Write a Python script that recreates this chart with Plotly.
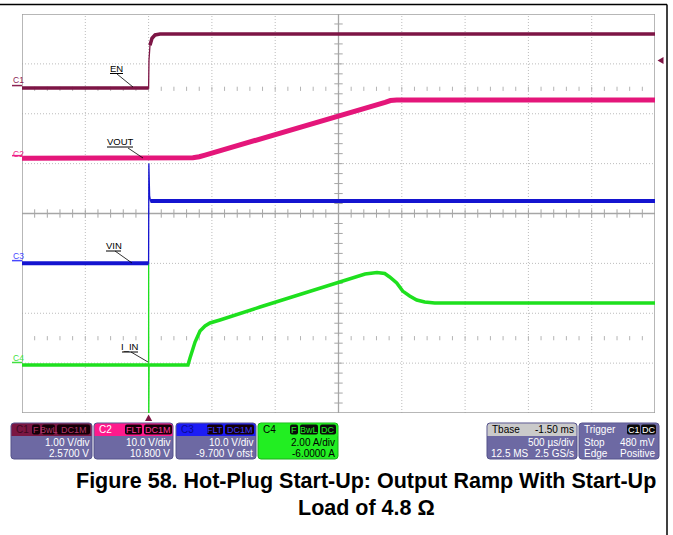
import plotly.graph_objects as go

# ---------------- data read from the scope capture ----------------
# time in microseconds relative to the trigger (500 us/div, 10 divisions)
time_range_us = [-1000, 4000]

# C1 : EN (V)
en_t = [-1000, 0, 3, 11, 27, 51, 90, 4000]
en_v = [0, 0, 1.12, 1.72, 2.0, 2.13, 2.17, 2.17]

# C2 : VOUT (V)
vout_t = [-1000, 300, 350, 400, 446, 1868, 1910, 1960, 4000]
vout_v = [0, 0, 0.15, 0.55, 1.2, 22.4, 23.1, 23.3, 23.3]

# C3 : VIN (V)
vin_t = [-1000, 0, 2, 8, 15, 4000]
vin_v = [0, 0, 40, 27, 24.9, 24.9]

# C4 : I_IN (A)
iin_t = [-1000, 0, 0.5, 1, 2, 3, 4, 311, 327, 367, 406, 446, 485, 564, 880,
         1504, 1591, 1710, 1804, 1865, 1904, 1960, 2007, 2062, 2118, 2181, 2260, 4000]
iin_a = [0, 0, 8.2, -5, 1.6, -1.0, 0, 0, 0.56, 1.84, 2.73, 3.13, 3.37, 3.61, 4.65,
         6.66, 6.94, 7.30, 7.42, 7.34, 7.06, 6.58, 5.93, 5.53, 5.21, 5.05, 4.97, 4.97]

trace_names = ["EN", "VOUT", "VIN", "I_IN"]
channel_tags = ["C1", "C2", "C3", "C4"]
volts_per_div = [1.0, 10.0, 10.0, 2.0]

# info-box texts
ch_settings = [["1.00 V/div", "2.5700 V"], ["10.0 V/div", "10.800 V"],
               ["10.0 V/div", "-9.700 V ofst"], ["2.00 A/div", "-6.0000 A"]]
ch_badges = [["F", "BwL", "DC1M"], ["FLT", "DC1M"], ["FLT", "DC1M"], ["F", "BwL", "DC"]]
tbase_text = ["Tbase", "-1.50 ms", "500 µs/div", "12.5 MS", "2.5 GS/s"]
trig_text = ["Trigger", "C1", "DC", "Stop", "480 mV", "Edge", "Positive"]
caption = ["Figure 58. Hot-Plug Start-Up: Output Ramp With Start-Up", "Load of 4.8 Ω"]

# ---------------- styling / layout ----------------
W, H = 673, 535
L, R, T, B = 22, 655, 14, 413            # plot area in pixels
NDIV_Y = 16
PX_PER_US = (R - L) / 5000
PX_PER_DIV = (B - T) / NDIV_Y

ground_div = [13.03, 10.22, 6.01, 1.925]
colors = ["#7d1545", "#e4167a", "#1414d0", "#1ee01e"]
thick = [3.5, 5, 4, 3.5]
label_colors = ["#8b2252", "#ee2288", "#4848ff", "#40e040"]
PURPLE = "#6d69a3"
FONT = "Liberation Sans, Arial, sans-serif"


def PX(x):
    return (x - L) / (R - L)


def PY(y):
    return (B - y) / (B - T)


def to_div(vals, ch):
    return [ground_div[ch] + v / volts_per_div[ch] for v in vals]


def thick_split(t, y):
    xs, ys = [t[0]], [y[0]]
    for i in range(1, len(t)):
        dx = abs(t[i] - t[i - 1]) * PX_PER_US
        dy = abs(y[i] - y[i - 1]) * PX_PER_DIV
        if dy > 3 and dy > 4 * dx:
            xs.append(None)
            ys.append(None)
        xs.append(t[i])
        ys.append(y[i])
    return xs, ys


fig = go.Figure()
shapes = []
annotations = []

# ---- graticule ----
GRID = "#bcbcbc"
AXC = "#a6a6a6"
for k in range(1, 10):
    t = time_range_us[0] + 500 * k
    if k == 5:
        continue
    shapes.append(dict(type="line", xref="x", yref="y", x0=t, x1=t, y0=0, y1=NDIV_Y,
                       line=dict(color=GRID, width=1, dash="1px,2px"), layer="below"))
for d in [2, 4, 6, 10, 12, 14]:
    shapes.append(dict(type="line", xref="x", yref="y", x0=time_range_us[0], x1=time_range_us[1],
                       y0=d, y1=d, line=dict(color=GRID, width=1, dash="1px,2px"), layer="below"))
shapes.append(dict(type="line", xref="x", yref="y", x0=1500, x1=1500, y0=0, y1=NDIV_Y,
                   line=dict(color=AXC, width=1.3), layer="below"))
shapes.append(dict(type="line", xref="x", yref="y", x0=time_range_us[0], x1=time_range_us[1],
                   y0=8, y1=8, line=dict(color=AXC, width=1.3), layer="below"))
shapes.append(dict(type="rect", xref="x", yref="y", x0=time_range_us[0], x1=time_range_us[1],
                   y0=0, y1=NDIV_Y, line=dict(color="#a0a0a0", width=1.5), layer="below"))

tick_t = [time_range_us[0] + 100 * k for k in range(1, 50)]
fig.add_trace(go.Scatter(x=tick_t, y=[8] * len(tick_t), mode="markers", hoverinfo="skip",
                         marker=dict(symbol="line-ns", size=6, line=dict(width=1, color=AXC))))
for d in [3, 13]:
    fig.add_trace(go.Scatter(x=tick_t, y=[d] * len(tick_t), mode="markers", hoverinfo="skip",
                             marker=dict(symbol="line-ns", size=3, line=dict(width=1, color="#b4b4b4"))))
tick_d = [0.4 * k for k in range(1, 40)]
fig.add_trace(go.Scatter(x=[1500] * len(tick_d), y=tick_d, mode="markers", hoverinfo="skip",
                         marker=dict(symbol="line-ew", size=6, line=dict(width=1, color=AXC))))

# ---- waveforms ----
series = [(en_t, en_v), (vout_t, vout_v), (vin_t, vin_v), (iin_t, iin_a)]
order = [3, 2, 1, 0]
for ch in order:
    t, v = series[ch]
    y = to_div(v, ch)
    fig.add_trace(go.Scatter(x=t, y=y, mode="lines", name=trace_names[ch],
                             line=dict(color=colors[ch], width=1.3)))
    xs, ys = thick_split(t, y)
    fig.add_trace(go.Scatter(x=xs, y=ys, mode="lines", name=trace_names[ch], connectgaps=False,
                             line=dict(color=colors[ch], width=thick[ch])))


def poly(pts):
    return "M " + " L ".join(f"{PX(x)},{PY(y)}" for x, y in pts) + " Z"


# trigger markers (time position under the graticule, level marker on the right)
shapes.append(dict(type="path", xref="paper", yref="paper", fillcolor=colors[0], line=dict(width=0),
                   path=poly([(148.6, 414.5), (152.2, 421), (145, 421)])))
shapes.append(dict(type="path", xref="paper", yref="paper", fillcolor=colors[0], line=dict(width=0),
                   path=poly([(657.5, 60.5), (663.5, 57), (663.5, 64)])))

# ---- channel markers on the left ----
label_y = [80, 154, 256, 358]
for ch in range(4):
    gy = B - ground_div[ch] * PX_PER_DIV
    annotations.append(dict(xref="paper", yref="paper", x=PX(11), y=PY(label_y[ch]), text=channel_tags[ch],
                            showarrow=False, xanchor="left", yanchor="middle",
                            font=dict(family=FONT, size=8.5, color=label_colors[ch])))
    shapes.append(dict(type="line", xref="paper", yref="paper", x0=PX(12), x1=PX(22),
                       y0=PY(gy - 2.5), y1=PY(gy - 2.5), line=dict(color=label_colors[ch], width=1.5)))

# ---- waveform name labels with leader lines ----
labels = [("EN", 116.5, 68, 110, 123, 73.5, (117, 74), (133, 87)),
          ("VOUT", 120, 141, 107, 133, 147, (128, 148), (143, 158)),
          ("VIN", 113.5, 245, 106, 121, 251, (115, 251), (132, 263)),
          ("I_IN", 130, 346, 122, 138, 352, (131, 352), (148, 362))]
for txt, cx, cy, ux0, ux1, uy, p0, p1 in labels:
    annotations.append(dict(xref="paper", yref="paper", x=PX(cx), y=PY(cy), text=txt, showarrow=False,
                            xanchor="center", yanchor="middle", font=dict(family=FONT, size=9.5, color="black")))
    shapes.append(dict(type="line", xref="paper", yref="paper", x0=PX(ux0), x1=PX(ux1), y0=PY(uy), y1=PY(uy),
                       line=dict(color="black", width=1)))
    shapes.append(dict(type="line", xref="paper", yref="paper", x0=PX(p0[0]), x1=PX(p1[0]),
                       y0=PY(p0[1]), y1=PY(p1[1]), line=dict(color="black", width=0.8)))


# ---- info boxes ----
def rpath(x0, y0, x1, y1, r, top_only=False):
    rb = 0 if top_only else r
    return (f"M {PX(x0 + r)},{PY(y0)} L {PX(x1 - r)},{PY(y0)} Q {PX(x1)},{PY(y0)} {PX(x1)},{PY(y0 + r)} "
            f"L {PX(x1)},{PY(y1 - rb)} Q {PX(x1)},{PY(y1)} {PX(x1 - rb)},{PY(y1)} "
            f"L {PX(x0 + rb)},{PY(y1)} Q {PX(x0)},{PY(y1)} {PX(x0)},{PY(y1 - rb)} "
            f"L {PX(x0)},{PY(y0 + r)} Q {PX(x0)},{PY(y0)} {PX(x0 + r)},{PY(y0)} Z")


def box(x0, x1, body, head, line="#55538a"):
    shapes.append(dict(type="path", xref="paper", yref="paper", path=rpath(x0, 423, x1, 459, 3),
                       fillcolor=body, line=dict(color=line, width=1)))
    shapes.append(dict(type="path", xref="paper", yref="paper", path=rpath(x0 + 0.5, 423.5, x1 - 0.5, 436, 3, True),
                       fillcolor=head, line=dict(width=0)))


def text(x, y, s, color, size=10, anchor="left", bold=False):
    annotations.append(dict(xref="paper", yref="paper", x=PX(x), y=PY(y), text=(f"<b>{s}</b>" if bold else s),
                            showarrow=False, xanchor=anchor, yanchor="middle",
                            font=dict(family=FONT, size=size, color=color)))


def badge(x0, x1, s, color, bg="#140008"):
    shapes.append(dict(type="path", xref="paper", yref="paper", path=rpath(x0, 424.5, x1, 434.5, 2),
                       fillcolor=bg, line=dict(width=0)))
    text((x0 + x1) / 2, 429.8, s, color, size=9, anchor="center")


ch_boxes = [(11, 92), (94, 173), (176, 256), (258, 338)]
head_cols = ["#7a1642", "#ff1a8c", "#1c1cf5", "#22ee22"]
title_cols = ["#3e0820", "#ffffff", "#0a0a90", "#000000"]
badge_txt = ["#b03868", "#ff3a9c", "#3a3aff", "#22ee22"]
badge_pos = [[(32, 40), (42, 55), (57, 90)], [(125, 142), (144, 172)],
             [(207, 223), (225, 254)], [(290, 298), (300, 318), (320, 336)]]
for ch in range(4):
    x0, x1 = ch_boxes[ch]
    body = "#22ee22" if ch == 3 else PURPLE
    box(x0, x1, body, head_cols[ch], line=("#18b018" if ch == 3 else "#55538a"))
    text(x0 + 3, 429.8, channel_tags[ch], title_cols[ch], size=10)
    for (b0, b1), s in zip(badge_pos[ch], ch_badges[ch]):
        badge(b0, b1, s, badge_txt[ch], bg=("#0a0a0a" if ch == 3 else "#140008"))
    tc = "black" if ch == 3 else "white"
    text(x1 - 1.5, 442, ch_settings[ch][0], tc, anchor="right")
    text(x1 - 1.5, 453, ch_settings[ch][1], tc, anchor="right")

# time base
box(487, 577, PURPLE, "#cacaca")
text(490, 429.8, tbase_text[0], "black")
text(576, 429.8, tbase_text[1], "black", anchor="right")
text(576, 442, tbase_text[2], "white", anchor="right")
text(489, 453, tbase_text[3], "white")
text(576, 453, tbase_text[4], "white", anchor="right")

# trigger
box(579, 659, PURPLE, PURPLE)
text(582, 429.8, trig_text[0], "white")
badge(627, 640, trig_text[1], "white", bg="#0a0a0a")
badge(641, 656, trig_text[2], "white", bg="#0a0a0a")
text(582, 442, trig_text[3], "white")
text(657, 442, trig_text[4], "white", anchor="right")
text(582, 453, trig_text[5], "white")
text(657, 453, trig_text[6], "white", anchor="right")

# caption
text(366, 480.5, caption[0], "black", size=21.5, anchor="center", bold=True)
text(366, 507.5, caption[1], "black", size=21.5, anchor="center", bold=True)

# page frame
shapes.append(dict(type="line", xref="paper", yref="paper", x0=PX(0), x1=PX(667), y0=PY(4.5), y1=PY(4.5),
                   line=dict(color="black", width=1.5)))
shapes.append(dict(type="line", xref="paper", yref="paper", x0=PX(667), x1=PX(667), y0=PY(4.5), y1=PY(536),
                   line=dict(color="black", width=1.5)))

fig.update_layout(
    width=W, height=H, autosize=False,
    margin=dict(l=L, r=W - R, t=T, b=H - B, pad=0),
    paper_bgcolor="white", plot_bgcolor="white",
    showlegend=False, shapes=shapes, annotations=annotations,
    xaxis=dict(range=time_range_us, visible=False, fixedrange=True),
    yaxis=dict(range=[0, NDIV_Y], visible=False, fixedrange=True),
    hovermode=False,
)
fig.write_html("out.html", config={"displayModeBar": False},
               post_script="document.body.style.margin='0px';document.body.style.overflow='hidden';")
